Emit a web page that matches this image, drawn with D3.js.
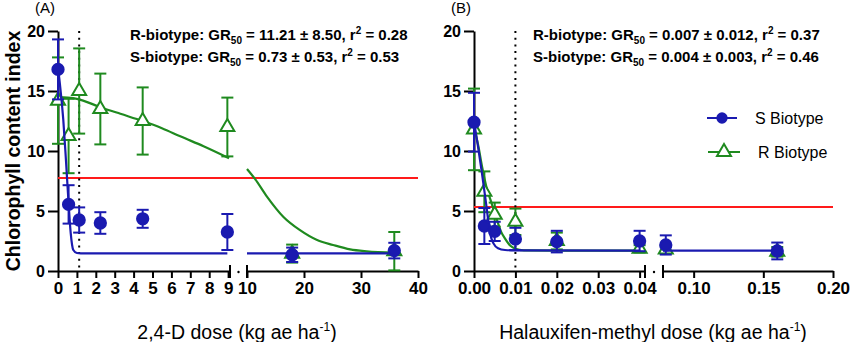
<!DOCTYPE html>
<html>
<head>
<meta charset="utf-8">
<script src="https://cdn.jsdelivr.net/npm/d3@7"></script>
<style>
body{margin:0;background:#fff;}
svg{display:block;font-family:"Liberation Sans",Arial,sans-serif;}
</style>
</head>
<body>
<svg id="chart"></svg>
<script>
// 2,4-D doses (kg ae/ha), chlorophyll means and error
let dosesA=[0,0.56,1.12,2.24,4.48,8.96,17.92,35.84]
let sMeanA=[16.8,5.55,4.25,4.0,4.35,3.25,1.35,1.7]
let sErrA=[2.5,1.6,1.05,0.9,0.75,1.5,0.6,0.65]
let rMeanA=[14.2,11.25,15.0,13.5,12.5,12.0,1.45,1.65]
let rErrA=[3.6,3.1,3.55,2.95,2.8,2.45,0.75,1.6]
// fitted dose-response lines for 2,4-D
let sFitA=[[0,16.9],[0.1,15.6],[0.28,12.6],[0.42,9.25],[0.55,5.9],[0.67,3.2],[0.81,1.75],[1.0,1.5],[1.2,1.47],[8.96,1.47],[10,1.47],[36,1.47]]
let rFitA=[[0,14.5],[0.5,14.45],[1,14.35],[2.24,13.65],[3.3,13.1],[4.48,12.5],[5.5,11.9],[6.5,11.2],[7.7,10.4],[9.05,9.4],
    [10,8.5],[11.4,7.67],[13.5,6.2],[16.4,4.5],[19.3,3.4],[22.2,2.6],[25.1,2.17],[28.1,1.8],[31,1.64],[35.8,1.53]]
let cutA=7.75
let refDoseA=1.12

// halauxifen-methyl doses (kg ae/ha)
let dosesB=[0,0.0025,0.005,0.01,0.02,0.04,0.08,0.16]
let sMeanB=[12.4,3.75,3.3,2.67,2.45,2.5,2.17,1.67]
let sErrB=[2.45,1.5,0.8,0.93,0.9,0.85,0.8,0.7]
let rMeanB=[11.8,6.6,4.7,4.1,2.5,1.85,1.8,1.6]
let rErrB=[3.4,1.7,1.0,1.1,0.7,0.3,0.3,0.4]
let sFitB=[[0,12.5],[0.001,10.3],[0.0019,8.2],[0.003,5.4],[0.0039,3.1],[0.0047,2.3],[0.0058,1.9],[0.0075,1.75],[0.01,1.72],[0.04,1.7],[0.078,1.7],[0.162,1.7]]
let rFitB=[[0,12.0],[0.001,10.5],[0.002,8.6],[0.003,7.0],[0.0043,5.6],[0.0055,4.3],[0.0065,3.3],[0.0075,2.7],[0.0088,2.1],[0.01,1.85],[0.012,1.72],[0.02,1.7],[0.04,1.7]]
let cutB=5.33
let refDoseB=0.01

let yTicks=[0,5,10,15,20]
let ticksA1=[0,1,2,3,4,5,6,7,8,9]
let minorA1=[0.5,1.5,2.5,3.5,4.5,5.5,6.5,7.5,8.5]
let ticksA2=[10,20,30,40]
let minorA2=[15,25,35]
let ticksB1=[0,0.01,0.02,0.03,0.04]
let minorB1=[0.005,0.015,0.025,0.035]
let ticksB2=[0.10,0.15,0.20]
let minorB2=[0.125,0.175]

let statsA=[['R-biotype: GR','11.21 ± 8.50','0.28'],['S-biotype: GR','0.73 ± 0.53','0.53']]
let statsB=[['R-biotype: GR','0.007 ± 0.012','0.37'],['S-biotype: GR','0.004 ± 0.003','0.46']]

let width=850
let height=342
let blue='#1a1ab0'
let green='#1f8a1f'
let red='#ff1a1a'
let svg=d3.select('#chart').attr('width',width).attr('height',height)
svg.append('rect').attr('width',width).attr('height',height).attr('fill','#fff')

let yScale=d3.scaleLinear().domain([0,20]).range([271,31])

let drawPanel=(p)=>{
    let g=svg.append('g')
    let x1=d3.scaleLinear().domain(p.dom1).range(p.rng1)
    let x2=d3.scaleLinear().domain(p.dom2).range(p.rng2)
    let xs=(d)=> d<=p.dom1[1]+1e-9 ? x1(d) : x2(d)
    let seg1=(d)=>d<=p.dom1[1]+1e-9

    // y axis
    let yAxis=d3.axisLeft(yScale).tickValues(yTicks).tickSize(10).tickPadding(3).tickSizeOuter(0)
    let ya=g.append('g').attr('transform','translate('+p.rng1[0]+',0)').call(yAxis)
    ya.selectAll('text').style('font-size','16px').style('font-weight','bold').attr('fill','#000')

    // x axis, two segments with a break
    let mkAxis=(scale,ticks,minor,fmt)=>{
        let a=g.append('g').attr('transform','translate(0,271)')
        a.call(d3.axisBottom(scale).tickValues(minor).tickSize(4).tickFormat('').tickSizeOuter(0))
        a.call(d3.axisBottom(scale).tickValues(ticks).tickSize(7).tickPadding(4).tickFormat(fmt).tickSizeOuter(0))
        a.selectAll('text').style('font-size','17px').style('font-weight','bold').attr('fill','#000')
        return a
    }
    mkAxis(x1,p.ticks1,p.minor1,p.fmt1)
    mkAxis(x2,p.ticks2,p.minor2,p.fmt2)
    g.selectAll('.domain,.tick line').attr('stroke','#000').attr('stroke-width',2)

    // break marks
    ;[p.rng1[1],p.rng2[0]].forEach(bx=>{
        g.append('line').attr('x1',bx).attr('x2',bx).attr('y1',265).attr('y2',278)
            .attr('stroke','#000').attr('stroke-width',2)
    })
    g.append('circle').attr('cx',(p.rng1[1]+p.rng2[0])/2).attr('cy',272).attr('r',1.2).attr('fill','#000')

    // threshold and reference dose
    g.append('line').attr('x1',p.rng1[0]).attr('x2',p.rng2[1])
        .attr('y1',yScale(p.cut)).attr('y2',yScale(p.cut))
        .attr('stroke',red).attr('stroke-width',2)
    g.append('line').attr('x1',x1(p.ref)).attr('x2',x1(p.ref)).attr('y1',31).attr('y2',271)
        .attr('stroke','#000').attr('stroke-width',2).attr('stroke-dasharray','2,4.7')

    // fitted curves, drawn per segment
    let line=d3.line().x(d=>xs(d[0])).y(d=>yScale(d[1])).curve(d3.curveMonotoneX)
    let drawFit=(pts,color)=>{
        let a=pts.filter(d=>seg1(d[0]))
        let b=pts.filter(d=>!seg1(d[0]))
        ;[a,b].forEach(s=>{
            if(s.length>1){
                g.append('path').datum(s).attr('d',line).attr('fill','none')
                    .attr('stroke',color).attr('stroke-width',2.2)
            }
        })
    }

    let drawSeries=(doses,mean,err,color,shape)=>{
        let pts=doses.map((d,i)=>({x:xs(d),y:mean[i],e:err[i]}))
        let eb=g.append('g').attr('stroke',color).attr('stroke-width',2)
        pts.forEach(d=>{
            eb.append('line').attr('x1',d.x).attr('x2',d.x).attr('y1',yScale(d.y-d.e)).attr('y2',yScale(d.y+d.e))
            eb.append('line').attr('x1',d.x-6).attr('x2',d.x+6).attr('y1',yScale(d.y+d.e)).attr('y2',yScale(d.y+d.e))
            eb.append('line').attr('x1',d.x-6).attr('x2',d.x+6).attr('y1',yScale(d.y-d.e)).attr('y2',yScale(d.y-d.e))
        })
        g.selectAll(null).data(pts).enter().append('path')
            .attr('transform',d=>'translate('+d.x+','+yScale(d.y)+')')
            .attr('d',shape=='circle'?d3.symbol().type(d3.symbolCircle).size(100)():d3.symbol().type(d3.symbolTriangle).size(85)())
            .attr('fill',shape=='circle'?color:'#fff')
            .attr('stroke',color).attr('stroke-width',2)
    }

    drawFit(p.rFit,green)
    drawSeries(p.doses,p.rMean,p.rErr,green,'triangle')
    drawFit(p.sFit,blue)
    drawSeries(p.doses,p.sMean,p.sErr,blue,'circle')

    // panel letter
    g.append('text').attr('x',p.rng1[0]-23).attr('y',13).text(p.letter).style('font-size','15px')

    // GR50 stats
    p.stats.forEach((s,i)=>{
        let t=g.append('text').attr('x',p.statX).attr('y',40+i*22)
            .style('font-size','15px').style('font-weight','bold')
        t.append('tspan').text(s[0])
        t.append('tspan').text('50').attr('dy',4).style('font-size','10px')
        t.append('tspan').text(' = '+s[1]+', r').attr('dy',-4)
        t.append('tspan').text('2').attr('dy',-6).style('font-size','10px')
        t.append('tspan').text(' = '+s[2]).attr('dy',6)
    })

    // x axis title
    let xt=g.append('text').attr('x',p.titleX).attr('y',339).attr('text-anchor','middle')
        .style('font-size','19.5px')
    xt.append('tspan').text(p.title+' (kg ae ha')
    xt.append('tspan').text('-1').attr('dy',-8).style('font-size','12px')
    xt.append('tspan').text(')').attr('dy',8)
}

drawPanel({letter:'(A)',dom1:[0,9.1],rng1:[58,230],dom2:[10,40],rng2:[247,418],
    ticks1:ticksA1,minor1:minorA1,ticks2:ticksA2,minor2:minorA2,fmt1:d3.format('d'),fmt2:d3.format('d'),
    doses:dosesA,sMean:sMeanA,sErr:sErrA,rMean:rMeanA,rErr:rErrA,sFit:sFitA,rFit:rFitA,
    cut:cutA,ref:refDoseA,stats:statsA,statX:130,title:'2,4-D dose',titleX:237})

drawPanel({letter:'(B)',dom1:[0,0.0413],rng1:[474,645],dom2:[0.078,0.20],rng2:[663,833],
    ticks1:ticksB1,minor1:minorB1,ticks2:ticksB2,minor2:minorB2,fmt1:d3.format('.2f'),fmt2:d3.format('.2f'),
    doses:dosesB,sMean:sMeanB,sErr:sErrB,rMean:rMeanB,rErr:rErrB,sFit:sFitB,rFit:rFitB,
    cut:cutB,ref:refDoseB,stats:statsB,statX:533,title:'Halauxifen-methyl dose',titleX:653})

// shared y axis title
svg.append('text').attr('transform','translate(20,151) rotate(-90)').attr('text-anchor','middle')
    .style('font-size','19.5px').style('font-weight','bold').text('Chlorophyll content index')

// legend
let legend=svg.append('g')
legend.append('line').attr('x1',707).attr('x2',737).attr('y1',118).attr('y2',118).attr('stroke',blue).attr('stroke-width',2)
legend.append('path').attr('transform','translate(722,118)').attr('d',d3.symbol().type(d3.symbolCircle).size(100)()).attr('fill',blue)
legend.append('text').attr('x',755).attr('y',124).style('font-size','16px').text('S Biotype')
legend.append('line').attr('x1',708).attr('x2',740).attr('y1',152).attr('y2',152).attr('stroke',green).attr('stroke-width',2)
legend.append('path').attr('transform','translate(724,152)').attr('d',d3.symbol().type(d3.symbolTriangle).size(85)())
    .attr('fill','#fff').attr('stroke',green).attr('stroke-width',2)
legend.append('text').attr('x',758).attr('y',158).style('font-size','16px').text('R Biotype')
</script>
</body>
</html>
